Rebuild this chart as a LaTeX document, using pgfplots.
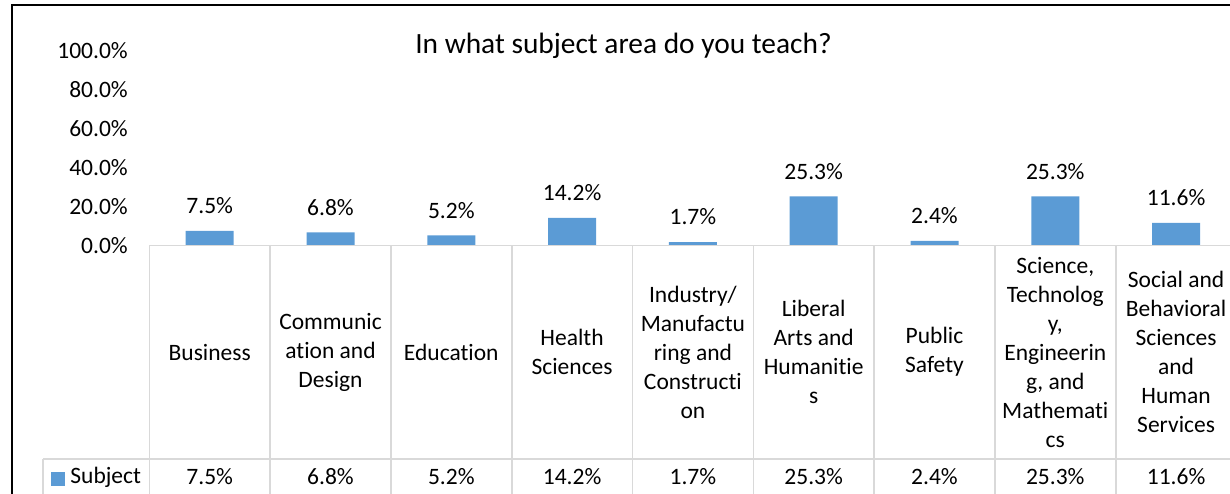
\documentclass[border=0pt]{standalone}
\usepackage{fontspec}
\setmainfont[Ligatures=NoCommon]{Carlito}
\usepackage{pgfplots}
\pgfplotsset{compat=1.18}
\usepackage{pgfplotstable}

\definecolor{barblue}{HTML}{5B9BD5}
\definecolor{tablegray}{HTML}{D9D9D9}

% share of respondents by subject area (%)
\pgfplotstableread{
x val
0 7.5
1 6.8
2 5.2
3 14.2
4 1.7
5 25.3
6 2.4
7 25.3
8 11.6
}\subjects

\newcommand{\lblfont}{\fontsize{11.75}{14.5}\selectfont}
\newcommand{\pct}[1]{\pgfmathprintnumber[fixed,fixed zerofill,precision=1]{#1}\%}

\begin{document}
% 1 unit = one pixel of the reference, y downwards
\begin{tikzpicture}[x=0.5pt, y=-0.5pt]
\path[use as bounding box, clip] (0,0) rectangle (1230,493);

\begin{axis}[
    at={(74.65pt,-122.75pt)}, anchor=south west,
    scale only axis,
    width=543.6pt, height=97.25pt,
    xmin=-0.5, xmax=8.5, ymin=0, ymax=100,
    clip=false,
    axis line style={draw=none},
    major tick length=0pt,
    xtick={0,...,8},
    xticklabels={Business,
        {Communic\\ation and\\Design},
        Education,
        {Health\\Sciences},
        {Industry/\\Manufactu\\ring and\\Constructi\\on},
        {Liberal\\Arts and\\Humanitie\\s},
        {Public\\Safety},
        {Science,\\Technolog\\y,\\Engineerin\\g, and\\Mathemati\\cs},
        {Social and\\Behavioral\\Sciences\\and\\Human\\Services}},
    xticklabel style={font=\lblfont, align=center, anchor=center, yshift=-53.25pt},
    ytick={0,20,...,100},
    yticklabel={\pct{\tick}},
    yticklabel style={font=\lblfont, xshift=-7.25pt},
    /pgf/number format/assume math mode=true,
]
\addplot[ybar, bar width=24pt, fill=barblue, draw=none,
    nodes near coords={\pct{\pgfplotspointmeta}},
    every node near coord/.append style={font=\lblfont, text=black, yshift=5pt}]
    table[x=x, y=val] {\subjects};

% values row of the data table
\addplot[draw=none, mark=none,
    point meta=\thisrow{val},
    nodes near coords={\pct{\pgfplotspointmeta}},
    every node near coord/.append style={font=\lblfont, text=black, anchor=center}]
    table[x=x, y expr=-118.7] {\subjects};
\end{axis}

% data table grid
\draw[tablegray, line width=0.8pt] (149.3,245.5) -- (1300,245.5);
\draw[tablegray, line width=0.8pt] (43,459) -- (1300,459);
\draw[tablegray, line width=0.8pt] (43,459) -- (43,520);
\foreach \k in {0,...,9}
    \draw[tablegray, line width=0.8pt] (149.3+120.8*\k,245.5) -- (149.3+120.8*\k,520);

% legend key in the table
\fill[barblue] (51,472) rectangle (65,486);
\node[font=\lblfont, anchor=west, inner sep=0pt] at (70,477) {Subject};

% title
\node[font=\fontsize{14.7}{17}\selectfont] at (623.5,46) {In what subject area do you teach?};

% chart frame
\draw[black, line width=1pt] (11.5,520) -- (11.5,5) -- (1300,5);
\end{tikzpicture}
\end{document}
